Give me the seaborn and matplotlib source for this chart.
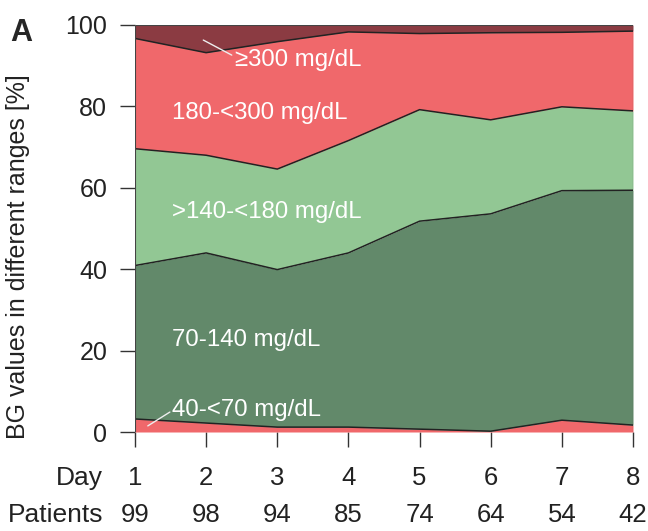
import numpy as np
import pandas as pd
import seaborn as sns
import matplotlib.pyplot as plt
from matplotlib.transforms import blended_transform_factory

days = [1, 2, 3, 4, 5, 6, 7, 8]
patients = [99, 98, 94, 85, 74, 64, 54, 42]

# cumulative upper boundaries of each BG range, in %
top_40_70 = [3.2, 2.2, 1.2, 1.2, 0.7, 0.2, 2.9, 1.7]
top_70_140 = [40.9, 44.0, 39.9, 44.0, 51.8, 53.6, 59.3, 59.4]
top_140_180 = [69.6, 68.0, 64.6, 71.6, 79.2, 76.7, 79.9, 78.9]
top_180_300 = [96.7, 93.2, 95.9, 98.3, 97.9, 98.1, 98.2, 98.5]
top_300 = [100, 100, 100, 100, 100, 100, 100, 100]

labels = ["40-<70 mg/dL", "70-140 mg/dL", ">140-<180 mg/dL", "180-<300 mg/dL", "\u2265300 mg/dL"]
colors = ["#F0686B", "#62896A", "#92C794", "#F0686B", "#8B3B42"]

df = pd.DataFrame({
    "day": days,
    "r1": top_40_70,
    "r2": top_70_140,
    "r3": top_140_180,
    "r4": top_180_300,
    "r5": top_300,
})

sns.set_style("white")
plt.rcParams['font.family'] = ['Liberation Sans', 'DejaVu Sans']

fig = plt.figure(figsize=(6.48, 5.31), dpi=100)
ax = fig.add_axes([135 / 648, 99 / 531, 498 / 648, 407 / 531])

cols = ["r1", "r2", "r3", "r4", "r5"]
lower = np.zeros(len(days))
for c, col in zip(cols, colors):
    upper = df[c].values
    ax.fill_between(df["day"], lower, upper, color=col, linewidth=0)
    lower = upper
for c in cols[:-1]:
    sns.lineplot(data=df, x="day", y=c, ax=ax, color="#222222", linewidth=1.1, legend=False)
ax.vlines([1, 8], 0, 100, color="#444444", linewidth=0.8)
ax.hlines(100, 1, 8, color="#444444", linewidth=0.8)

ax.set_xlim(1, 8)
ax.set_ylim(0, 100)
for s in ax.spines.values():
    s.set_visible(False)

ax.set_yticks([0, 20, 40, 60, 80, 100])
ax.set_xticks(days)
ax.set_xticklabels([])
ax.tick_params(axis="y", direction="out", length=11, width=1, color="#333333",
               labelsize=18, pad=9, left=True, labelcolor="#222222")
ax.tick_params(axis="x", direction="out", length=11, width=1, color="#333333", bottom=True)
ax.set_xlabel("")
ax.set_ylabel("BG values in different ranges [%]", fontsize=18, color="#222222")
ax.yaxis.set_label_coords(-0.21, 0.43)

trans = blended_transform_factory(ax.transData, ax.transAxes)
for d, p in zip(days, patients):
    ax.text(d, -0.113, str(d), transform=trans, ha="center", va="center", fontsize=18.5, color="#222222")
    ax.text(d, -0.204, str(p), transform=trans, ha="center", va="center", fontsize=18.5, color="#222222")
ax.text(-0.064, -0.113, "Day", transform=ax.transAxes, ha="right", va="center", fontsize=19, color="#222222")
ax.text(-0.064, -0.204, "Patients", transform=ax.transAxes, ha="right", va="center", fontsize=19, color="#222222")

# range labels inside the areas
ax.text(2.41, 91.4, labels[4], color="white", fontsize=17.3, va="center", ha="left")
ax.text(1.52, 78.4, labels[3], color="white", fontsize=17.3, va="center", ha="left")
ax.text(1.52, 54.1, labels[2], color="white", fontsize=17.3, va="center", ha="left")
ax.text(1.52, 22.6, labels[1], color="white", fontsize=17.3, va="center", ha="left")
ax.text(1.52, 5.4, labels[0], color="white", fontsize=17.3, va="center", ha="left")
ax.plot([1.96, 2.36], [96.3, 92.6], color="#EEEEEE", linewidth=1)
ax.plot([1.18, 1.49], [1.5, 4.9], color="#EEEEEE", linewidth=1)

fig.text(10 / 648, 1 - 33 / 531, "A", fontsize=22, fontweight="bold", va="center", ha="left")

fig.savefig("out.png", dpi=100)
